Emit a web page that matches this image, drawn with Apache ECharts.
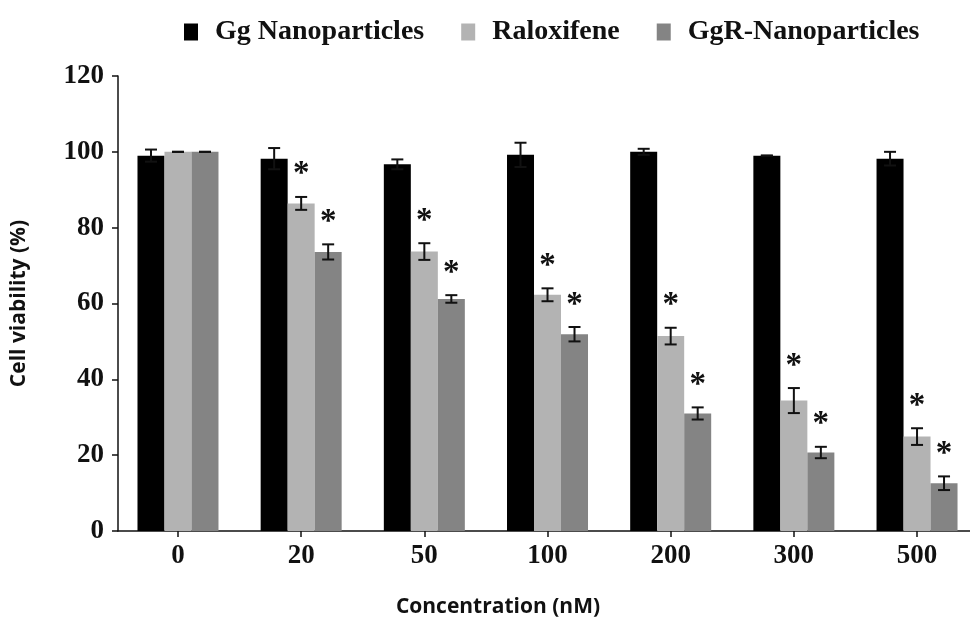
<!DOCTYPE html>
<html>
<head>
<meta charset="utf-8">
<script src="https://cdn.jsdelivr.net/npm/echarts@6/dist/echarts.min.js"></script>
<style>html,body{margin:0;padding:0;background:#fff;overflow:hidden;}#chart{width:970px;height:625px;}</style>
</head>
<body>
<div id="chart"></div>
<script>
const categories = ['0', '20', '50', '100', '200', '300', '500'];
const seriesNames = ['Gg Nanoparticles', 'Raloxifene', 'GgR-Nanoparticles'];
const ggNano = [99, 98.2, 96.7, 99.2, 100, 99, 98.2];
const ggNanoErr = [1.6, 2.8, 1.3, 3.2, 0.8, 0, 1.8];
const raloxifene = [100, 86.4, 73.7, 62.3, 51.4, 34.4, 24.9];
const raloxifeneErr = [0, 1.7, 2.2, 1.7, 2.2, 3.3, 2.2];
const ggrNano = [100, 73.6, 61.2, 51.9, 31, 20.7, 12.6];
const ggrNanoErr = [0, 2.0, 1.0, 1.9, 1.6, 1.5, 1.8];
const ggNanoSig = [0, 0, 0, 0, 0, 0, 0];
const raloxifeneSig = [0, 1, 1, 1, 1, 1, 1];
const ggrNanoSig = [0, 1, 1, 1, 1, 1, 1];
const yTicks = [0, 20, 40, 60, 80, 100, 120];

const colors = ['#000000', '#b3b3b3', '#848484'];
const BAR_W = 27;
const serifFont = '"Liberation Serif", "Times New Roman", serif';
const sansFont = '"Open Sans", "Noto Sans", sans-serif';

const values = [ggNano, raloxifene, ggrNano];
const errs = [ggNanoErr, raloxifeneErr, ggrNanoErr];
const sigs = [ggNanoSig, raloxifeneSig, ggrNanoSig];
const catIdx = categories.map((c, i) => i);

const chart = echarts.init(document.getElementById('chart'), null, {renderer: 'canvas'});

function barRender(k) {
  return function (params, api) {
    const ci = api.value(0);
    const v = api.value(1);
    const top = api.coord([ci, v]);
    const base = api.coord([ci, 0]);
    const x = top[0] + (k - 1.5) * BAR_W;
    return {
      type: 'rect',
      shape: {x: x, y: top[1], width: BAR_W, height: base[1] - top[1]},
      style: {fill: colors[k]}
    };
  };
}

function errRender(k) {
  return function (params, api) {
    const ci = api.value(0);
    const v = api.value(1);
    const e = api.value(2);
    const sig = api.value(3);
    const c = api.coord([ci, v]);
    const x = c[0] + (k - 1) * BAR_W;
    const yHi = api.coord([ci, v + e])[1];
    const yLo = api.coord([ci, v - e])[1];
    const cap = 6;
    const st = {stroke: '#111', lineWidth: 2};
    const children = [
      {type: 'line', shape: {x1: x, y1: yHi, x2: x, y2: yLo}, style: st},
      {type: 'line', shape: {x1: x - cap, y1: yHi, x2: x + cap, y2: yHi}, style: st},
      {type: 'line', shape: {x1: x - cap, y1: yLo, x2: x + cap, y2: yLo}, style: st}
    ];
    if (sig) {
      children.push({
        type: 'text',
        style: {
          x: x, y: yHi - 22, text: '*', fill: '#111',
          font: 'bold 33px ' + serifFont,
          align: 'center', verticalAlign: 'middle'
        }
      });
    }
    return {type: 'group', children: children};
  };
}

const series = [];
for (let k = 0; k < 3; k++) {
  series.push({
    name: seriesNames[k],
    type: 'custom',
    data: values[k].map((v, i) => [catIdx[i], v]),
    renderItem: barRender(k),
    itemStyle: {color: colors[k]},
    encode: {x: 0, y: 1},
    silent: true
  });
}
for (let k = 0; k < 3; k++) {
  series.push({
    type: 'custom',
    name: seriesNames[k] + ' err',
    data: values[k].map((v, i) => [catIdx[i], v, errs[k][i], sigs[k][i]]),
    renderItem: errRender(k),
    encode: {x: 0, y: 1},
    z: 10,
    silent: true
  });
}

chart.setOption({
  animation: false,
  color: colors,
  legend: {
    data: seriesNames.map((n, i) => ({name: n, itemStyle: {color: colors[i]}})),
    left: 179,
    top: 13,
    icon: 'rect',
    itemWidth: 14,
    itemHeight: 17,
    itemGap: 37,
    textStyle: {
      fontFamily: serifFont, fontWeight: 'bold', fontSize: 28, color: '#111',
      padding: [0, 0, 0, 12]
    }
  },
  grid: {left: 118, top: 76, height: 455, right: 0},
  xAxis: {
    type: 'value',
    min: -0.487, max: 6.43,
    name: 'Concentration (nM)',
    nameLocation: 'middle',
    nameGap: 66,
    nameTextStyle: {fontFamily: sansFont, fontWeight: 'bold', fontSize: 21, color: '#111', padding: [0, 92, 0, 0]},
    axisLine: {onZero: false, lineStyle: {color: '#111', width: 1.5}},
    axisTick: {show: true, length: 6, lineStyle: {color: '#111', width: 1.5}, customValues: catIdx},
    axisLabel: {
      margin: 12, fontFamily: serifFont, fontWeight: 'bold', fontSize: 27, color: '#111',
      customValues: catIdx,
      formatter: v => categories[Math.round(v)]
    },
    splitLine: {show: false}
  },
  yAxis: {
    type: 'value',
    min: 0, max: 120, interval: 20,
    name: 'Cell viability (%)',
    nameLocation: 'middle',
    nameGap: 88,
    nameTextStyle: {fontFamily: sansFont, fontWeight: 'bold', fontSize: 21, color: '#111'},
    axisLine: {show: true, onZero: false, lineStyle: {color: '#111', width: 1.5}},
    axisTick: {show: true, length: 6, lineStyle: {color: '#111', width: 1.5}},
    axisLabel: {
      margin: 14, fontFamily: serifFont, fontWeight: 'bold', fontSize: 27, color: '#111',
      customValues: yTicks
    },
    splitLine: {show: false}
  },
  series: series
});
</script>
</body>
</html>
